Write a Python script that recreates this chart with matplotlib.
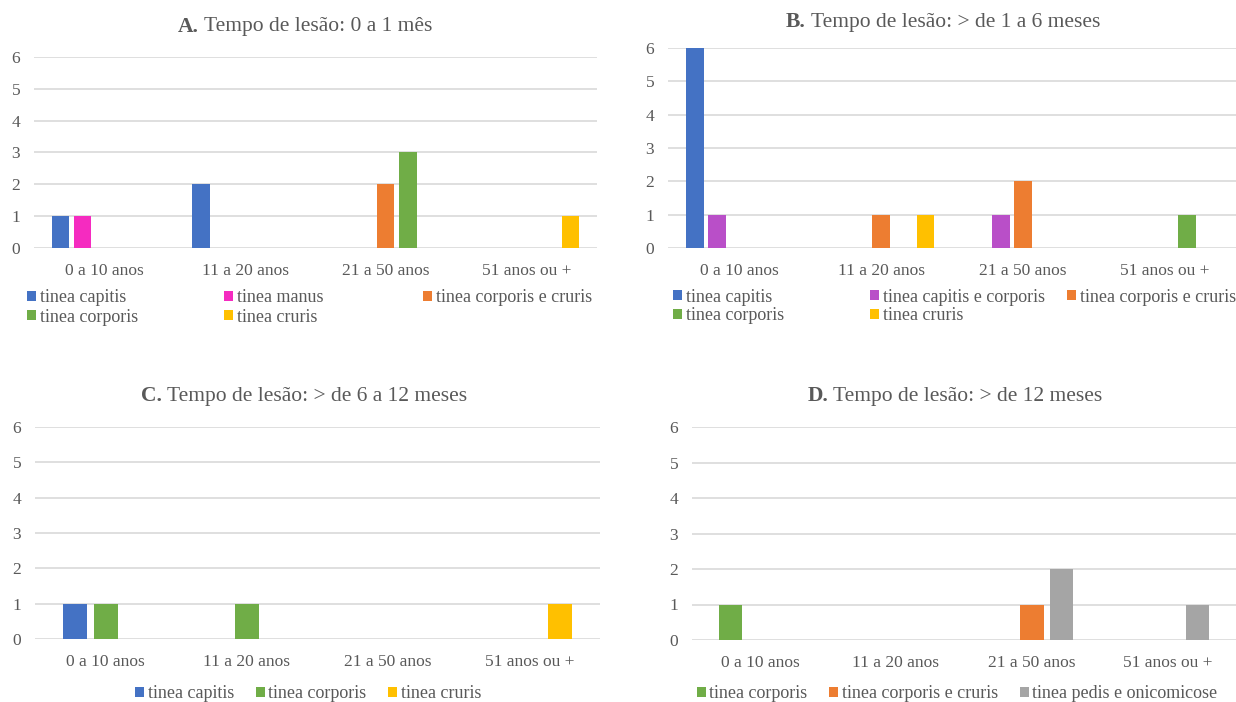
import numpy as np
import matplotlib.pyplot as plt

plt.rcParams['font.family'] = ['Liberation Serif', 'DejaVu Serif']

W, H = 1236, 702
txt_col = '#595959'
grid_col = '#D9D9D9'

faixas = ['0 a 10 anos', '11 a 20 anos', '21 a 50 anos', '51 anos ou +']

# A. Tempo de lesao: 0 a 1 mes
a_labels = ['tinea capitis', 'tinea manus', 'tinea corporis e cruris', 'tinea corporis', 'tinea cruris']
a_capitis = [1, 2, 0, 0]
a_manus = [1, 0, 0, 0]
a_corp_cruris = [0, 0, 2, 0]
a_corporis = [0, 0, 3, 0]
a_cruris = [0, 0, 0, 1]
a_colors = ['#4472C4', '#F52BC0', '#ED7D31', '#70AD47', '#FFC000']

# B. > de 1 a 6 meses
b_labels = ['tinea capitis', 'tinea capitis e corporis', 'tinea corporis e cruris', 'tinea corporis', 'tinea cruris']
b_capitis = [6, 0, 0, 0]
b_cap_corp = [1, 0, 1, 0]
b_corp_cruris = [0, 1, 2, 0]
b_corporis = [0, 0, 0, 1]
b_cruris = [0, 1, 0, 0]
b_colors = ['#4472C4', '#B94FC8', '#ED7D31', '#70AD47', '#FFC000']

# C. > de 6 a 12 meses
c_labels = ['tinea capitis', 'tinea corporis', 'tinea cruris']
c_capitis = [1, 0, 0, 0]
c_corporis = [1, 1, 0, 0]
c_cruris = [0, 0, 0, 1]
c_colors = ['#4472C4', '#70AD47', '#FFC000']

# D. > de 12 meses
d_labels = ['tinea corporis', 'tinea corporis e cruris', 'tinea pedis e onicomicose']
d_corporis = [1, 0, 0, 0]
d_corp_cruris = [0, 0, 1, 0]
d_pedis = [0, 0, 2, 1]
d_colors = ['#70AD47', '#ED7D31', '#A5A5A5']

FS = 12.5
LFS = 13


def px_axes(fig, x0, x1, ytop, ybot):
    return fig.add_axes([x0 / W, 1 - ybot / H, (x1 - x0) / W, (ybot - ytop) / H])


def draw_panel(ax, series, colors, slot, width):
    x = np.arange(len(faixas))
    n = len(series)
    handles = []
    for j, (vals, col) in enumerate(zip(series, colors)):
        handles.append(ax.bar(x + (j - (n - 1) / 2) * slot, vals, width, color=col, zorder=3))
    ax.set_xlim(-0.5, len(faixas) - 0.5)
    ax.set_ylim(0, 6)
    ax.set_yticks(range(7))
    ax.set_xticks(x, faixas)
    ax.grid(axis='y', color=grid_col, lw=1.2, zorder=0)
    for s in ax.spines.values():
        s.set_visible(False)
    ax.tick_params(axis='both', length=0, labelsize=FS, labelcolor=txt_col)
    ax.tick_params(axis='x', pad=11)
    ax.tick_params(axis='y', pad=10)
    return handles


def title(fig, letter, rest, xc, yc):
    r = fig.canvas.get_renderer()
    t1 = fig.text(0, 1 - yc / H, letter, fontsize=15.5, fontweight='bold', color=txt_col, va='center')
    t2 = fig.text(0, 1 - yc / H, ' ' + rest, fontsize=15.5, color=txt_col, va='center')
    w1 = t1.get_window_extent(r).width
    w2 = t2.get_window_extent(r).width
    x0 = xc - (w1 + w2) / 2
    t1.set_x(x0 / W)
    t2.set_x((x0 + w1) / W)


def legend_grid(fig, handles, labels, xs, ys):
    # one legend per entry, Excel-like fixed columns
    for i, (h, l) in enumerate(zip(handles, labels)):
        fig.legend([h], [l], loc='center left', bbox_to_anchor=(xs[i % 3] / W, 1 - ys[i // 3] / H),
                   frameon=False, borderpad=0, borderaxespad=0, handlelength=0.5, handleheight=0.5,
                   handletextpad=0.2, fontsize=LFS, labelcolor=txt_col)


def legend_row(fig, handles, labels, xc, yc):
    fig.legend(handles, labels, ncol=len(labels), loc='center', bbox_to_anchor=(xc / W, 1 - yc / H),
               frameon=False, borderpad=0, borderaxespad=0, handlelength=0.5, handleheight=0.5,
               handletextpad=0.2, columnspacing=1.2, fontsize=LFS, labelcolor=txt_col)


fig = plt.figure(figsize=(W / 100, H / 100), dpi=100)

axA = px_axes(fig, 34, 597, 57, 248)
hA = draw_panel(axA, [a_capitis, a_manus, a_corp_cruris, a_corporis, a_cruris], a_colors, 0.157, 0.122)
title(fig, 'A.', 'Tempo de lesão: 0 a 1 mês', 305, 27)
legend_grid(fig, hA, a_labels, [27, 224, 423], [298, 317])

axB = px_axes(fig, 668, 1236, 48, 248)
hB = draw_panel(axB, [b_capitis, b_cap_corp, b_corp_cruris, b_corporis, b_cruris], b_colors, 0.155, 0.12)
title(fig, 'B.', 'Tempo de lesão: > de 1 a 6 meses', 943, 22)
legend_grid(fig, hB, b_labels, [673, 870, 1067], [297, 316])

axC = px_axes(fig, 35, 600, 427, 639)
hC = draw_panel(axC, [c_capitis, c_corporis, c_cruris], c_colors, 0.22, 0.17)
title(fig, 'C.', 'Tempo de lesão: > de 6 a 12 meses', 304, 396)
legend_row(fig, hC, c_labels, 308, 694)

axD = px_axes(fig, 692, 1236, 427, 640)
hD = draw_panel(axD, [d_corporis, d_corp_cruris, d_pedis], d_colors, 0.22, 0.17)
title(fig, 'D.', 'Tempo de lesão: > de 12 meses', 955, 396)
legend_row(fig, hD, d_labels, 957, 694)

fig.savefig('out.png', dpi=100)
